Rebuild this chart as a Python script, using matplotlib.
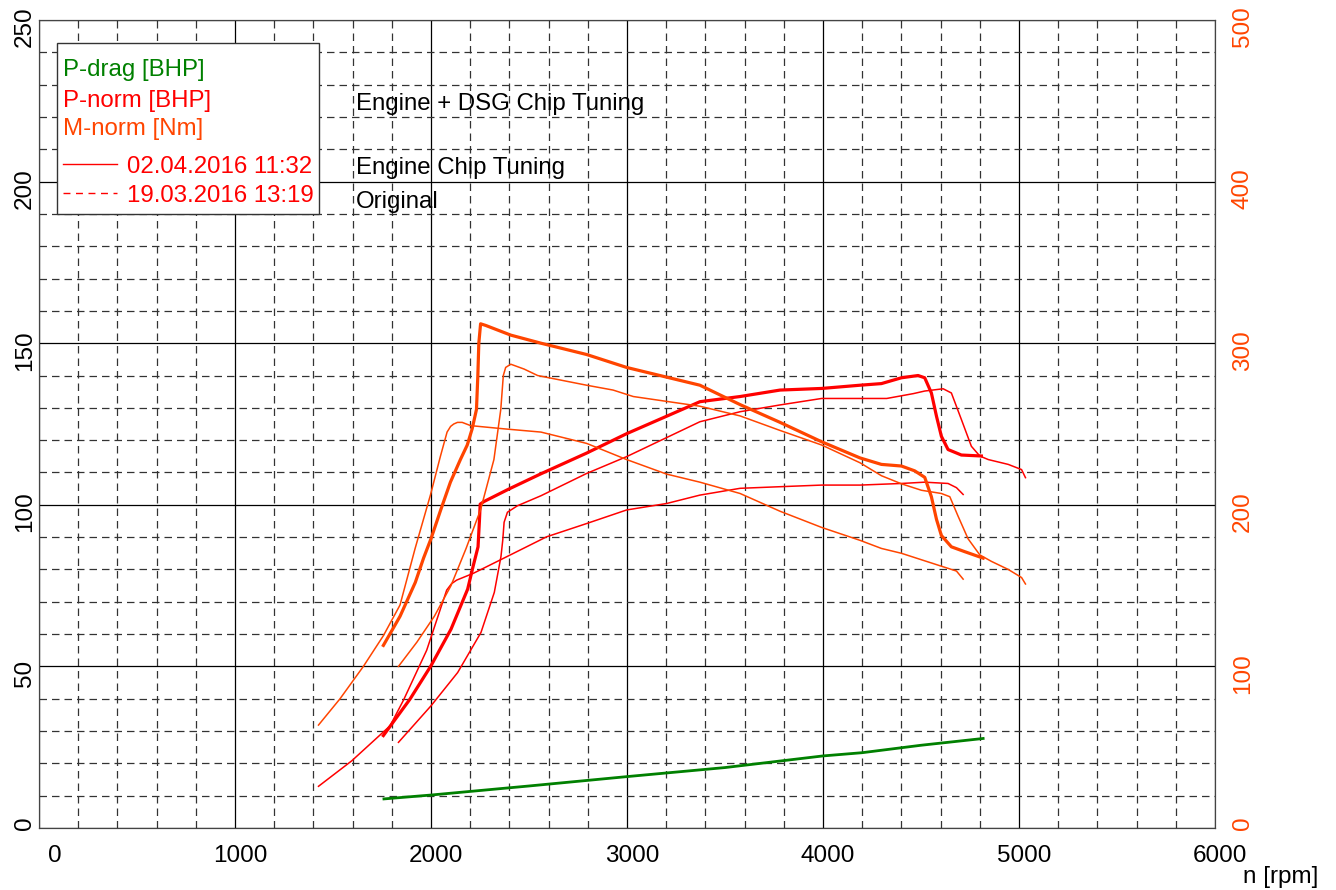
import numpy as np
import matplotlib.pyplot as plt
import matplotlib.transforms as mtrans
from matplotlib.patches import Rectangle
from matplotlib.ticker import MultipleLocator

plt.rcParams['font.family'] = ['Liberation Sans', 'DejaVu Sans']

RED = '#ff0000'
ORANGE = '#ff4500'
GREEN = '#008000'

# Engine + DSG chip tuning (thick curves)
tune2_p_rpm = [1757, 1893, 2000, 2102, 2187, 2215, 2240, 2247, 2251, 2270, 2398, 2561, 2794, 2998,
               3372, 3577, 3781, 3993, 4189, 4298, 4400, 4485, 4519, 4553, 4579, 4604, 4638, 4706, 4808]
tune2_p = [28.6, 39.9, 50.2, 61.5, 73.9, 81, 87, 95, 100.2, 101, 104.9, 109.6, 116, 122,
           131.9, 133.5, 135.5, 136, 137, 137.5, 139.3, 140, 139.3, 134.6, 127.4, 121.2, 117.1, 115.4, 115.1]
tune2_m_rpm = [1757, 1842, 1920, 1962, 2000, 2050, 2099, 2150, 2185, 2210, 2232, 2239, 2244, 2253, 2279,
               2407, 2561, 2794, 2998, 3202, 3372, 3577, 3781, 3993, 4189, 4298, 4400, 4468, 4519, 4553,
               4579, 4604, 4655, 4723, 4817]
tune2_m = [113, 131, 152, 167, 179, 197, 214, 228, 237, 247, 259, 280, 300, 312, 311,
           305, 300, 293, 285, 279, 274, 262, 251, 239, 229, 225, 224, 221, 217, 205,
           191, 181, 174, 171, 167]

# Engine chip tuning
tune1_p_rpm = [1834, 2000, 2136, 2255, 2323, 2357, 2366, 2373, 2390, 2441, 2561, 2794, 2998, 3372, 3577,
               3781, 3993, 4189, 4325, 4461, 4519, 4613, 4655, 4706, 4757, 4800, 4843, 4945, 5013, 5033]
tune1_p = [26.5, 37.8, 48.1, 60.5, 72.9, 84, 89, 94.6, 97.7, 99.7, 102.8, 109.7, 114.9, 125.7, 128.8,
           130.9, 132.9, 132.9, 132.9, 134.4, 135.2, 135.9, 134.6, 126.4, 118.1, 115.1, 114, 112.5, 110.9, 108.4]
tune1_m_rpm = [1834, 1928, 2017, 2102, 2179, 2253, 2321, 2356, 2369, 2381, 2407, 2475, 2544, 2794, 2929,
               3032, 3372, 3577, 3781, 3993, 4189, 4298, 4400, 4502, 4604, 4647, 4689, 4740, 4800, 4859,
               4945, 5013, 5033]
tune1_m = [100, 115, 131, 150, 173, 197, 228, 259, 280, 285, 287, 284, 280, 274, 271,
           267, 261, 255, 246, 237, 226, 218, 213, 209, 207, 205, 193, 179, 169, 165,
           160, 155, 151]

# Original
orig_p_rpm = [1426, 1596, 1791, 1860, 1978, 2080, 2105, 2131, 2216, 2352, 2590, 2794, 2998, 3202, 3372,
              3577, 3781, 3993, 4189, 4400, 4519, 4638, 4681, 4715]
orig_p = [12.9, 20.8, 31.6, 39.6, 55, 73.6, 75.6, 76.7, 78.8, 82.9, 90.1, 94.2, 98.4, 100.4, 103,
          105.1, 105.6, 106.1, 106.1, 106.6, 107, 106.6, 105.3, 103.2]
orig_m_rpm = [1426, 1536, 1655, 1757, 1842, 1919, 1997, 2048, 2082, 2100, 2116, 2135, 2159, 2202, 2287,
              2373, 2561, 2794, 2998, 3202, 3372, 3577, 3781, 3993, 4189, 4298, 4400, 4502, 4604, 4681, 4715]
orig_m = [63.7, 80, 100, 119, 138, 173, 206, 230, 245, 248.5, 250, 251, 251, 249, 248,
          247, 245, 238, 228, 219, 214, 207, 196, 186, 178, 173, 170, 166, 162, 159, 154]

# drag power
drag_rpm = [1760, 2000, 2500, 3000, 3500, 4000, 4200, 4500, 4817]
drag_p = [9.0, 10.2, 13.0, 15.9, 18.7, 22.3, 23.3, 25.6, 27.7]

legend_items = ['P-drag [BHP]', 'P-norm [BHP]', 'M-norm [Nm]']
legend_colors = [GREEN, RED, ORANGE]
runs = ['02.04.2016 11:32', '19.03.2016 13:19']
run_labels = ['Engine + DSG Chip Tuning', 'Engine Chip Tuning', 'Original']

fig = plt.figure(figsize=(13.36, 8.9), dpi=100)
ax = fig.add_axes([39/1336, 62/890, 1176/1336, 808/890])
ax2 = ax.twinx()

ax.set_xlim(0, 6000)
ax.set_ylim(0, 250)
ax2.set_ylim(0, 500)

ax.xaxis.set_major_locator(MultipleLocator(1000))
ax.xaxis.set_minor_locator(MultipleLocator(200))
ax.yaxis.set_major_locator(MultipleLocator(50))
ax.yaxis.set_minor_locator(MultipleLocator(10))
ax2.yaxis.set_major_locator(MultipleLocator(100))

ax.grid(which='major', color='black', lw=0.9, ls='-')
ax.grid(which='minor', color='#333333', lw=0.9, ls=(0, (6, 4)))
ax.set_axisbelow(True)

ax.tick_params(which='both', length=0)
ax.tick_params(axis='x', labelsize=17.5, pad=12)
ax.tick_params(axis='y', labelsize=17.5, pad=2)
ax2.tick_params(which='both', length=0, labelsize=17.5, pad=12, labelcolor=ORANGE)

fig.canvas.draw()
# nudge tick labels a little like the original
for lab in ax.get_xticklabels():
    dx = 16 if lab.get_text() == '0' else 5
    lab.set_transform(lab.get_transform() + mtrans.ScaledTranslation(dx/100, 0, fig.dpi_scale_trans))
for axis in (ax, ax2):
    for lab in axis.get_yticklabels():
        lab.set_rotation(90)
        lab.set_va('center')
        dy = 5 if lab.get_text() == '0' else -7
        lab.set_transform(lab.get_transform() + mtrans.ScaledTranslation(0, dy/100, fig.dpi_scale_trans))

for s in list(ax.spines.values()) + list(ax2.spines.values()):
    s.set_color('#444444')

# power curves on left axis, torque on right axis
ax.plot(drag_rpm, drag_p, color=GREEN, lw=2.0)
ax2.plot(orig_m_rpm, orig_m, color=ORANGE, lw=1.1)
ax2.plot(tune1_m_rpm, tune1_m, color=ORANGE, lw=1.1)
ax2.plot(tune2_m_rpm, tune2_m, color=ORANGE, lw=2.3)
ax.plot(orig_p_rpm, orig_p, color=RED, lw=1.1)
ax.plot(tune1_p_rpm, tune1_p, color=RED, lw=1.1)
ax.plot(tune2_p_rpm, tune2_p, color=RED, lw=2.3)

# run labels
for lab, y in zip(run_labels, [222.2, 202.3, 191.7]):
    ax.text(1617, y, lab, fontsize=17.3, color='black', va='baseline', ha='left')

# legend box drawn by hand
ax2.add_patch(Rectangle((0.015, 0.7603), 0.2234, 0.2109, transform=ax2.transAxes,
                        facecolor='white', edgecolor='#333333', lw=1.0, zorder=5))
for lab, col, y in zip(legend_items, legend_colors, [0.9307, 0.8927, 0.8577]):
    ax2.text(0.0207, y, lab, color=col, fontsize=17.3, transform=ax2.transAxes,
             va='baseline', ha='left', zorder=6)
for lab, ls, y, yl in zip(runs, ['-', (0, (5, 4))], [0.8110, 0.7751], [0.8218, 0.7863]):
    ax2.plot([0.0207, 0.0661], [yl, yl], color=RED, lw=1.0, ls=ls,
             transform=ax2.transAxes, zorder=6)
    ax2.text(0.0746, y, lab, color=RED, fontsize=17.3, transform=ax2.transAxes,
             va='baseline', ha='left', zorder=6)

fig.text(1318/1336, 1 - 877/890, 'n [rpm]', fontsize=17.5, ha='right', va='center')

fig.savefig('out.png', dpi=100)
